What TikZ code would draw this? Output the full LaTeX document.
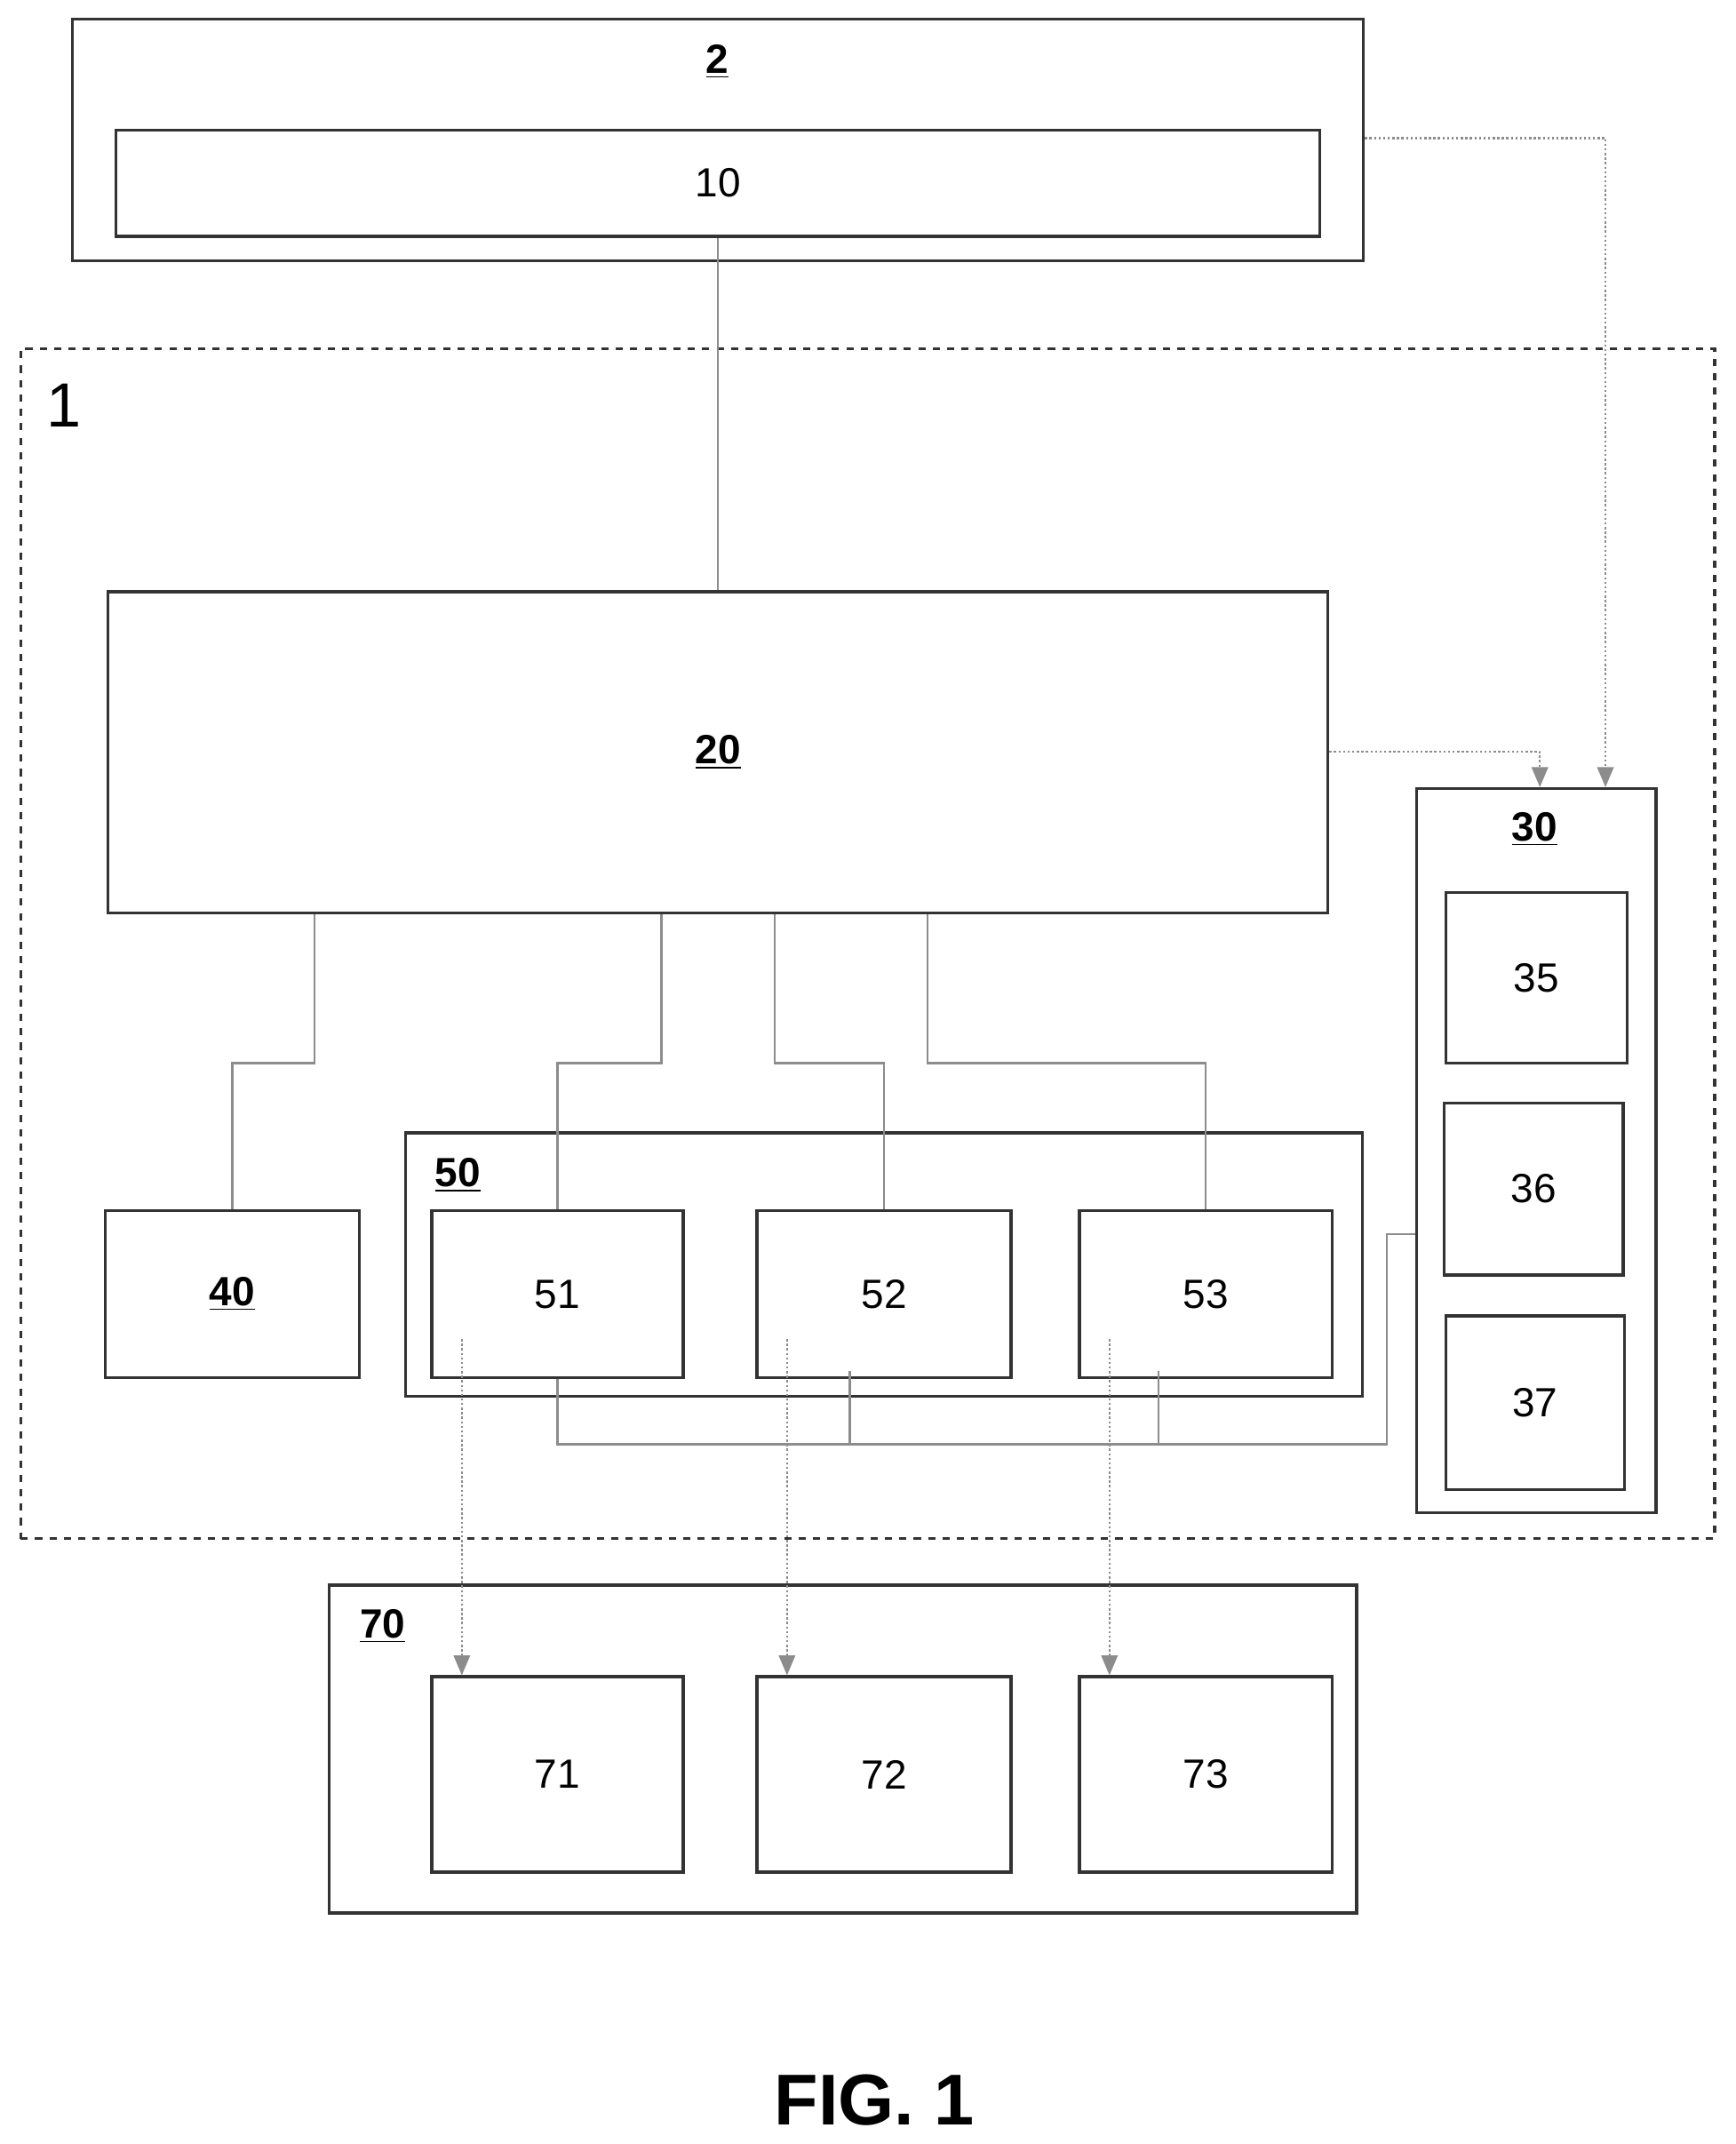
\documentclass[tikz,border=0pt]{standalone}
\usepackage{fontspec}
\setmainfont{Liberation Sans}
\usetikzlibrary{arrows,positioning,calc}
\begin{document}
\begin{tikzpicture}[x=0.02cm,y=-0.02cm]
\tikzset{blocco/.style={draw=black!80, line width=1.2pt, font=\fontsize{17}{19}\selectfont, inner sep=0pt}, }
\tikzset{rif/.style={font=\fontsize{17}{19}\selectfont\bfseries}, }
\tikzset{filo/.style={draw=black!45, line width=0.9pt}, }
\tikzset{linea/.style={filo, densely dotted, -triangle 45}, }
\useasboundingbox (0,0) rectangle (1270,1569);
% sistema esterno
\node[blocco, minimum width=18.9cm, minimum height=3.54cm] (n2) at (525.5,102.5) {};
\node[rif] (l2) at (525,45) {\underline{2}};
\node[blocco, minimum width=17.62cm, minimum height=1.56cm] (n10) at (525.5,134) {10};
% dispositivo
\node[blocco, dashed, minimum width=24.8cm, minimum height=17.42cm] (n1) at (635,690.5) {};
\node[font=\fontsize{26}{28}\selectfont] (l1) at (47,297) {1};
\node[blocco, minimum width=17.86cm, minimum height=4.7cm] (n20) at (525.5,550.5) {\bfseries\underline{20}};
\node[blocco, minimum width=3.5cm, minimum height=10.6cm] (n30) at (1124.5,842) {};
\node[rif] (l30) at (1123,607) {\underline{30}};
\node[blocco, minimum width=2.66cm, minimum height=2.5cm] (n35) at (1124.5,715.5) {35};
\node[blocco, minimum width=2.62cm, minimum height=2.52cm] (n36) at (1122.5,870) {36};
\node[blocco, minimum width=2.62cm, minimum height=2.54cm] (n37) at (1123.5,1026.5) {37};
\node[blocco, minimum width=3.72cm, minimum height=2.44cm] (n40) at (170,947) {\bfseries\underline{40}};
\node[blocco, minimum width=14cm, minimum height=3.86cm] (n50) at (647,925.5) {};
\node[rif] (l50) at (335,860) {\underline{50}};
\node[blocco, minimum width=3.68cm, minimum height=2.44cm] (n51) at (408,947) {51};
\node[blocco, minimum width=3.72cm, minimum height=2.44cm] (n52) at (647,947) {52};
\node[blocco, minimum width=3.7cm, minimum height=2.44cm] (n53) at (882.5,947) {53};
% uscite
\node[blocco, minimum width=15.04cm, minimum height=4.8cm] (n70) at (617,1280) {};
\node[rif] (l70) at (280,1190) {\underline{70}};
\node[blocco, minimum width=3.68cm, minimum height=2.86cm] (n71) at (408,1298.5) {71};
\node[blocco, minimum width=3.72cm, minimum height=2.86cm] (n72) at (647,1298.5) {72};
\node[blocco, minimum width=3.7cm, minimum height=2.86cm] (n73) at (882.5,1298.5) {73};
\node[font=\fontsize{30}{32}\selectfont\bfseries] (fig) at (640,1537) {FIG. 1};
% collegamenti
\draw[filo] (n10.south) -- (n20.north);
\draw[filo] (n20.south -| 230,0) |- (170,778) -- (n40.north);
\draw[filo] (n20.south -| 484,0) |- (n51.north |- 0,778) -- (n51.north);
\draw[filo] (n20.south -| 567,0) |- (n52.north |- 0,778) -- (n52.north);
\draw[filo] (n20.south -| 679,0) |- (n53.north |- 0,778) -- (n53.north);
\draw[linea] (n20.east |- 0,550) -| (n30.north -| 1127,0);
\draw[linea] (n2.east |- 0,101) -| (n30.north -| 1175,0);
\draw[filo] (n30.west |- 0,903) -| (1015,1057) -| (n51.south);
\draw[filo] (622,1057) -- (622,1003);
\draw[filo] (848,1057) -- (848,1003);
\draw[linea] (338,980) -- (n71.north -| 338,0);
\draw[linea] (576,980) -- (n72.north -| 576,0);
\draw[linea] (812,980) -- (n73.north -| 812,0);
\end{tikzpicture}
\end{document}
